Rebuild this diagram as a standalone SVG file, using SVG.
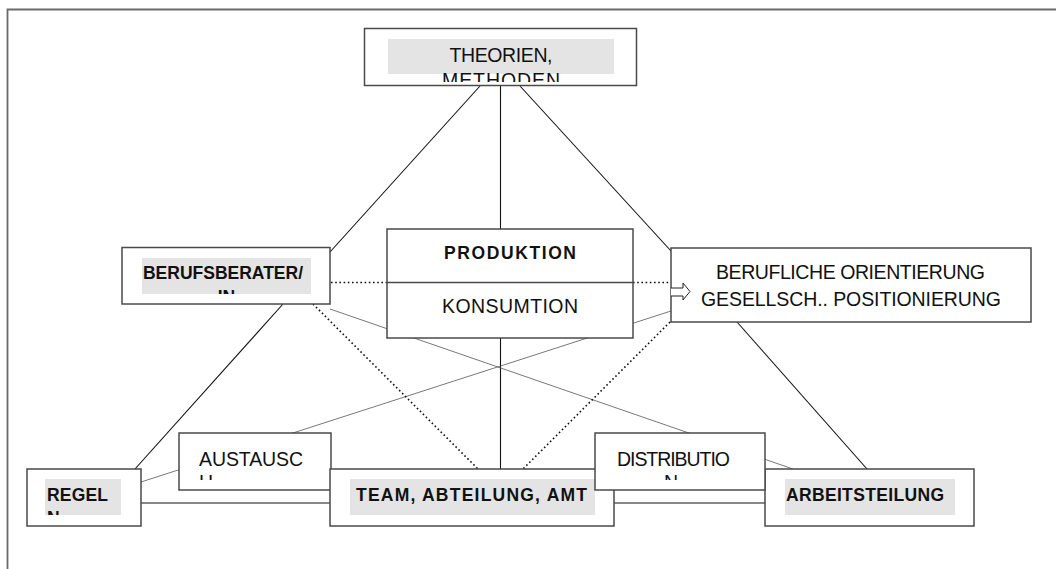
<svg xmlns="http://www.w3.org/2000/svg" width="1056" height="569" viewBox="0 0 1056 569">
  <style>
    .box { fill: #ffffff; stroke: #4a4a4a; stroke-width: 1.5; }
    .hl { fill: #e4e4e4; stroke: none; }
    .t { font-family: "Liberation Sans", Arial, sans-serif; font-size: 19.5px; fill: #111111; }
    .b { font-weight: bold; font-size: 17.5px; }
    .solid { stroke: #111111; stroke-width: 1.1; fill: none; }
    .thin { stroke: #555555; stroke-width: 0.8; fill: none; }
    .dot { stroke: #111111; stroke-width: 1.6; stroke-dasharray: 1.6 2.6; fill: none; }
    .frame { stroke: #6a6a6a; stroke-width: 1.8; fill: none; }
  </style>
  <defs>
    <clipPath id="clipTheo"><rect x="365" y="29" width="271" height="53"/></clipPath>
    <clipPath id="clipBerater"><rect x="142" y="258" width="169" height="36"/></clipPath>
    <clipPath id="clipRegel"><rect x="45" y="479" width="76" height="36"/></clipPath>
    <clipPath id="clipAustausch"><rect x="180" y="434" width="150" height="46"/></clipPath>
    <clipPath id="clipDistribution"><rect x="596" y="434" width="168" height="46"/></clipPath>
  </defs>

  <rect x="0" y="0" width="1056" height="569" fill="#ffffff"/>
  <polyline class="frame" points="7.5,569 7.5,9.5 1056,9.5"/>

  <g id="connectors">
    <!-- solid links -->
    <line class="solid" x1="500.5" y1="86" x2="500.5" y2="229"/>
    <line class="solid" x1="500.5" y1="338" x2="500.5" y2="469"/>
    <line class="solid" x1="480" y1="86" x2="330" y2="252"/>
    <line class="solid" x1="520" y1="86" x2="671" y2="251"/>
    <line class="solid" x1="283" y1="304" x2="135" y2="469"/>
    <line class="solid" x1="737" y1="322" x2="867" y2="469"/>
    <line class="solid" x1="141" y1="503" x2="765" y2="503"/>
    <!-- thin crossing links -->
    <line class="thin" x1="330" y1="309" x2="793" y2="469"/>
    <line class="thin" x1="671" y1="311" x2="141" y2="482"/>
    <!-- dotted links -->
    <line class="dot" x1="331" y1="282.5" x2="387" y2="282.5"/>
    <line class="dot" x1="633" y1="282.5" x2="670" y2="282.5"/>
    <line class="dot" x1="313" y1="304" x2="478" y2="469"/>
    <line class="dot" x1="670" y1="322" x2="523" y2="469"/>
  </g>

  <g id="theorien">
    <rect class="box" x="364.5" y="28.5" width="272" height="57"/>
    <rect class="hl" x="388" y="39" width="226" height="35"/>
    <g clip-path="url(#clipTheo)">
      <text class="t" x="501" y="61.5" text-anchor="middle" font-size="21" textLength="103" lengthAdjust="spacing">THEORIEN,</text>
      <text class="t" x="501" y="87" text-anchor="middle" font-size="21" textLength="118" lengthAdjust="spacing">METHODEN</text>
    </g>
  </g>

  <g id="berufsberater">
    <rect class="box" x="122" y="247.5" width="208" height="56.5"/>
    <rect class="hl" x="142" y="258" width="169" height="36"/>
    <g clip-path="url(#clipBerater)">
      <text class="t b" x="143" y="279" textLength="160" lengthAdjust="spacing">BERUFSBERATER/</text>
      <text class="t b" x="226.5" y="303" text-anchor="middle">IN</text>
    </g>
  </g>

  <g id="produktion">
    <rect class="box" x="387" y="229" width="246" height="109"/>
    <line x1="387" y1="282.5" x2="633" y2="282.5" stroke="#4a4a4a" stroke-width="1.5"/>
    <text class="t b" x="444" y="259" textLength="132" lengthAdjust="spacing">PRODUKTION</text>
    <text class="t" x="442" y="313" textLength="136" lengthAdjust="spacing">KONSUMTION</text>
  </g>

  <g id="berufliche-orientierung">
    <rect class="box" x="671" y="248" width="360" height="74"/>
    <path d="M671,288 H683 V283 L690,291.5 L683,300 V296 H671" fill="#ffffff" stroke="#222222" stroke-width="1"/>
    <text class="t" x="716" y="278.5" textLength="269" lengthAdjust="spacing">BERUFLICHE ORIENTIERUNG</text>
    <text class="t" x="701" y="305.5" textLength="300" lengthAdjust="spacing">GESELLSCH.. POSITIONIERUNG</text>
  </g>

  <g id="regel">
    <rect class="box" x="27" y="469" width="114" height="57"/>
    <rect class="hl" x="45" y="479" width="76" height="36"/>
    <g clip-path="url(#clipRegel)">
      <text class="t b" x="47" y="500.5" textLength="61" lengthAdjust="spacing">REGEL</text>
      <text class="t b" x="47" y="524">N</text>
    </g>
  </g>

  <g id="austausch">
    <rect class="box" x="179" y="433" width="152" height="57"/>
    <g clip-path="url(#clipAustausch)">
      <text class="t" x="199" y="465.5" textLength="104" lengthAdjust="spacing">AUSTAUSC</text>
      <text class="t" x="199" y="489">H</text>
    </g>
  </g>

  <g id="team">
    <rect class="box" x="330" y="469" width="284" height="57"/>
    <rect class="hl" x="350" y="479" width="245" height="36"/>
    <text class="t b" x="356" y="500.5" textLength="231" lengthAdjust="spacing">TEAM, ABTEILUNG, AMT</text>
  </g>

  <g id="arbeitsteilung">
    <rect class="box" x="765" y="469" width="209" height="57"/>
    <rect class="hl" x="785" y="479" width="170" height="36"/>
    <text class="t b" x="786" y="500.5" textLength="158" lengthAdjust="spacing">ARBEITSTEILUNG</text>
  </g>

  <g id="distribution">
    <rect class="box" x="595" y="433" width="170" height="57"/>
    <g clip-path="url(#clipDistribution)">
      <text class="t" x="617" y="465.5" textLength="113" lengthAdjust="spacing">DISTRIBUTIO</text>
      <text class="t" x="671" y="489" text-anchor="middle">N</text>
    </g>
  </g>
</svg>
